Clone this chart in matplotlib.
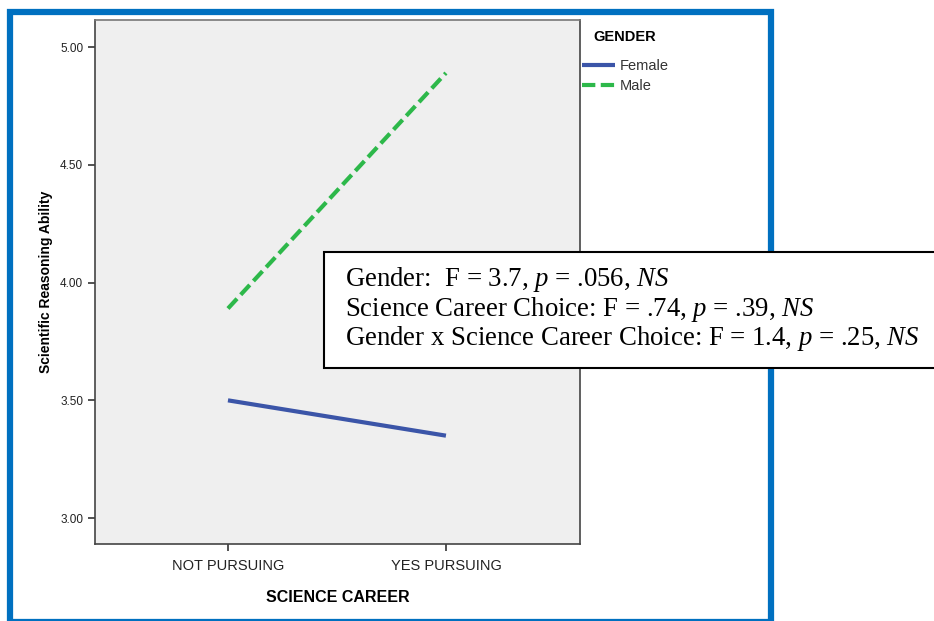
import matplotlib.pyplot as plt
from matplotlib.patches import Rectangle

plt.rcParams['font.family'] = ['Liberation Sans', 'DejaVu Sans']
plt.rcParams['mathtext.fontset'] = 'custom'
plt.rcParams['mathtext.rm'] = 'Liberation Serif'
plt.rcParams['mathtext.it'] = 'Liberation Serif:italic'

# data
careers = ["NOT PURSUING", "YES PURSUING"]
female = [3.50, 3.35]
male = [3.89, 4.89]
yticks = [3.00, 3.50, 4.00, 4.50, 5.00]
stats_lines = [
    r"Gender:  F = 3.7, $\mathit{p}$ = .056, $\mathit{NS}$",
    r"Science Career Choice: F = .74, $\mathit{p}$ = .39, $\mathit{NS}$",
    r"Gender x Science Career Choice: F = 1.4, $\mathit{p}$ = .25, $\mathit{NS}$",
]

W, H = 934, 621
fig = plt.figure(figsize=(W / 100, H / 100), dpi=100)

def fx(px):
    return px / W

def fy(py):
    return 1 - py / H

# blue frame (bottom edge runs off the image)
fig.patches.append(Rectangle((fx(10), fy(622)), fx(761), (622 - 12) / H,
                             transform=fig.transFigure, fill=False,
                             edgecolor='#0070C0', linewidth=4.5, zorder=0))

ax = fig.add_axes([fx(95), fy(544), fx(485), (544 - 20) / H])
ax.set_facecolor('#EFEFEF')
x = range(len(careers))
ax.plot(x, female, color='#3B55A8', linewidth=3, solid_capstyle='butt', label='Female')
ax.plot(x, male, color='#2DB84A', linewidth=3, dashes=(3.2, 1.3), label='Male')

ax.set_xlim(-0.61, 1.615)
ax.set_ylim(2.89, 5.115)
ax.set_xticks(list(x))
ax.set_xticklabels(careers, fontsize=10.5, color='#222222')
ax.set_yticks(yticks)
ax.set_yticklabels(["%.2f" % v for v in yticks], fontsize=8.5, color='#222222')
ax.tick_params(direction='out', length=5, width=1.2, color='#333333')
ax.tick_params(axis='x', pad=6)
for s in ax.spines.values():
    s.set_color('#444444')
    s.set_linewidth(1.2)
ax.spines['top'].set_color('#777777')
ax.set_xlabel("SCIENCE CAREER", fontsize=11.5, fontweight='bold', labelpad=12)
ax.set_ylabel("Scientific Reasoning Ability", fontsize=10, fontweight='bold', labelpad=5)

fig.text(fx(593), fy(37), "GENDER", fontsize=10.5, fontweight='bold', va='center')
leg = fig.legend(handles=ax.get_lines(), loc='upper left',
                 bbox_to_anchor=(fx(576), fy(53)), frameon=False,
                 fontsize=10.5, handlelength=2.3,
                 handletextpad=0.3, labelspacing=0.45, borderaxespad=0)
for t in leg.get_texts():
    t.set_color('#333333')

# statistics box
fig.patches.append(Rectangle((fx(324), fy(368)), fx(640), (368 - 252) / H,
                             transform=fig.transFigure, facecolor='white',
                             edgecolor='black', linewidth=1.5, zorder=5))
for i, line in enumerate(stats_lines):
    fig.text(fx(345), fy(286 + 29.5 * i), line, fontsize=19.3,
             family='Liberation Serif', va='baseline', ha='left', zorder=6)

fig.savefig("out.png", dpi=100)
